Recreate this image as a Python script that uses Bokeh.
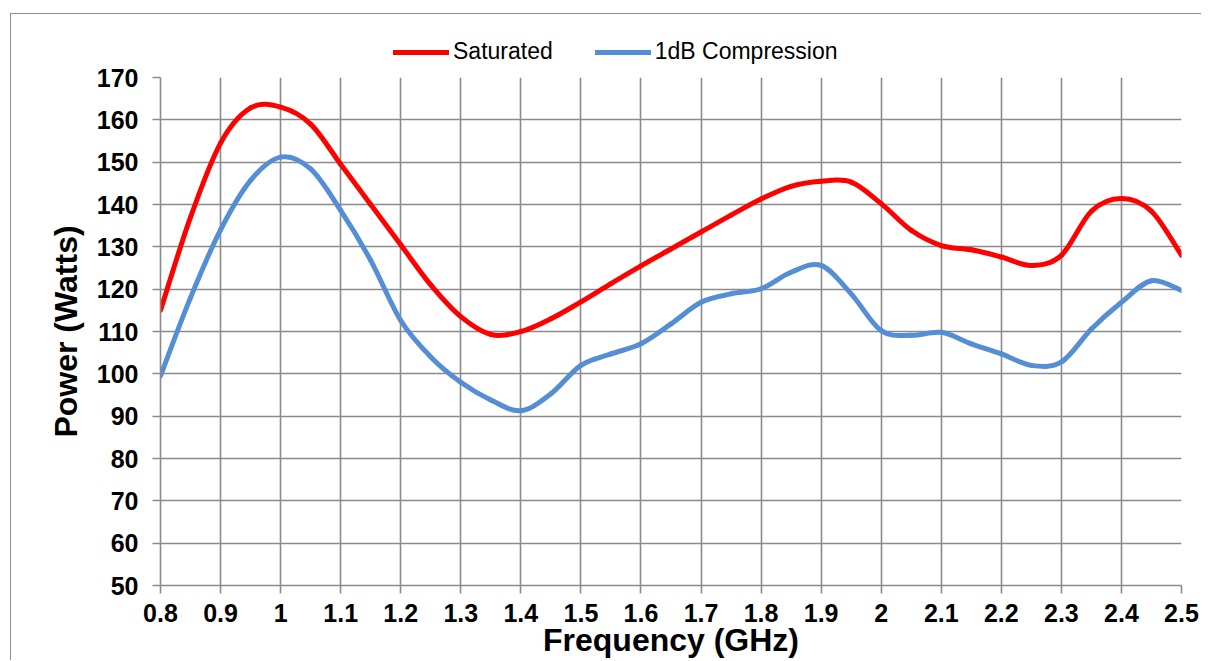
from bokeh.plotting import figure
from bokeh.models import FixedTicker, Range1d, Legend, LegendItem
from bokeh.layouts import column
from bokeh.embed import file_html
from bokeh.resources import INLINE

# ---- data ----
freq = [0.80, 0.85, 0.90, 0.95, 1.00, 1.05, 1.10, 1.15, 1.20, 1.25, 1.30, 1.35,
        1.40, 1.45, 1.50, 1.55, 1.60, 1.65, 1.70, 1.75, 1.80, 1.85, 1.90, 1.95,
        2.00, 2.05, 2.10, 2.15, 2.20, 2.25, 2.30, 2.35, 2.40, 2.45, 2.50]
saturated = [115, 137, 154.5, 162.8, 163, 159, 149.5, 140, 130.5, 121, 113.5, 109.3,
             110, 113, 117, 121.3, 125.5, 129.5, 133.5, 137.5, 141.3, 144.3, 145.5, 145.3,
             140.2, 133.9, 130.3, 129.3, 127.6, 125.6, 128, 138.4, 141.4, 138.4, 128]
compression = [99.5, 118, 134, 145.7, 151.2, 148.4, 138.6, 126.8, 112.6, 104, 98, 93.8,
               91.3, 95.3, 102, 104.7, 107.1, 111.8, 116.9, 118.9, 120.1, 124, 125.6, 118.9,
               110.2, 109.1, 109.8, 107.1, 104.7, 102, 102.8, 110.6, 116.9, 122, 119.7]

x_ticks = [0.8, 0.9, 1.0, 1.1, 1.2, 1.3, 1.4, 1.5, 1.6, 1.7, 1.8, 1.9,
           2.0, 2.1, 2.2, 2.3, 2.4, 2.5]
x_tick_labels = ["0.8", "0.9", "1", "1.1", "1.2", "1.3", "1.4", "1.5", "1.6", "1.7",
                 "1.8", "1.9", "2", "2.1", "2.2", "2.3", "2.4", "2.5"]
y_ticks = [50, 60, 70, 80, 90, 100, 110, 120, 130, 140, 150, 160, 170]

series_names = ["Saturated", "1dB Compression"]
series_colors = ["#FF0000", "#558ED5"]
series_values = [saturated, compression]

GRID = "#8a8a8a"
FONT = "Liberation Sans"


def smooth_segments(xs, ys):
    """Catmull-Rom style smoothing (like a spreadsheet 'smoothed line'):
    returns bezier segment data that passes through every data point."""
    n = len(xs)
    out = {k: [] for k in ("x0", "y0", "x1", "y1", "cx0", "cy0", "cx1", "cy1")}
    for i in range(n - 1):
        ip = max(i - 1, 0)
        inn = min(i + 2, n - 1)
        out["x0"].append(xs[i]); out["y0"].append(ys[i])
        out["x1"].append(xs[i + 1]); out["y1"].append(ys[i + 1])
        out["cx0"].append(xs[i] + (xs[i + 1] - xs[ip]) / 6.0)
        out["cy0"].append(ys[i] + (ys[i + 1] - ys[ip]) / 6.0)
        out["cx1"].append(xs[i + 1] - (xs[inn] - xs[i]) / 6.0)
        out["cy1"].append(ys[i + 1] - (ys[inn] - ys[i]) / 6.0)
    return out


# ---- legend strip (top border area of the chart) ----
lf = figure(width=1190, height=51, output_backend="svg", toolbar_location=None,
            x_range=Range1d(0.8, 2.5), y_range=Range1d(0, 1),
            x_axis_location=None, y_axis_location=None,
            min_border_left=0, min_border_right=0, min_border_top=0, min_border_bottom=0)
lf.outline_line_color = None
lf.xgrid.grid_line_color = None
lf.ygrid.grid_line_color = None
lf.background_fill_color = "white"
lf.border_fill_color = "white"

# the series drawn here lie outside this strip's view; they only feed the legend swatches
swatches = [lf.line(freq, ys, line_color=c, line_width=5, line_cap="round")
            for ys, c in zip(series_values, series_colors)]
legend = Legend(items=[LegendItem(label=n, renderers=[r])
                       for n, r in zip(series_names, swatches)],
                orientation="horizontal", location=(233, 0))
legend.label_text_font = FONT
legend.label_text_font_size = "23px"
legend.label_text_color = "black"
legend.glyph_width = 56
legend.glyph_height = 22
legend.label_height = 22
legend.label_standoff = 4
legend.spacing = 42
legend.padding = 0
legend.margin = 0
legend.border_line_color = None
legend.background_fill_alpha = 0
lf.add_layout(legend, "center")

# ---- main chart ----
p = figure(width=1190, height=595, output_backend="svg", toolbar_location=None,
           x_range=Range1d(0.8, 2.5), y_range=Range1d(50, 170),
           min_border_left=149, min_border_top=12, min_border_right=20,
           min_border_bottom=75)
p.outline_line_color = None
p.background_fill_color = "white"
p.border_fill_color = "white"

p.xgrid.ticker = FixedTicker(ticks=x_ticks)
p.ygrid.ticker = FixedTicker(ticks=y_ticks)
for g in (p.xgrid, p.ygrid):
    g.grid_line_color = GRID
    g.grid_line_width = 1.6

p.xaxis.ticker = FixedTicker(ticks=x_ticks)
p.xaxis.major_label_overrides = {t: l for t, l in zip(x_ticks, x_tick_labels)}
p.yaxis.ticker = FixedTicker(ticks=y_ticks)
for ax in (p.xaxis, p.yaxis):
    ax.axis_line_color = GRID
    ax.axis_line_width = 1.6
    ax.major_tick_line_color = GRID
    ax.major_tick_line_width = 1.6
    ax.major_tick_out = 8
    ax.major_tick_in = 0
    ax.minor_tick_line_color = None
    ax.major_label_text_font = FONT
    ax.major_label_text_font_style = "bold"
    ax.major_label_text_font_size = "25px"
    ax.major_label_text_color = "black"
    ax.axis_label_text_font = FONT
    ax.axis_label_text_font_style = "bold"
    ax.axis_label_text_font_size = "32px"
    ax.axis_label_text_color = "black"

p.xaxis.axis_label = "Frequency (GHz)"
p.yaxis.axis_label = "Power (Watts)"
p.xaxis.major_label_standoff = 10
p.yaxis.major_label_standoff = 14
p.xaxis.axis_label_standoff = -3
p.yaxis.axis_label_standoff = 10

for ys, col in zip(series_values, series_colors):
    seg = smooth_segments(freq, ys)
    p.bezier(x0=seg["x0"], y0=seg["y0"], x1=seg["x1"], y1=seg["y1"],
             cx0=seg["cx0"], cy0=seg["cy0"], cx1=seg["cx1"], cy1=seg["cy1"],
             line_color=col, line_width=5, line_cap="round")

layout = column(lf, p, spacing=0)
layout.styles = {"border-left": "1px solid #8c8c8c", "border-top": "1px solid #8c8c8c",
                 "margin-left": "10px", "margin-top": "13px"}

open("out.html", "w").write(file_html(layout, INLINE))
